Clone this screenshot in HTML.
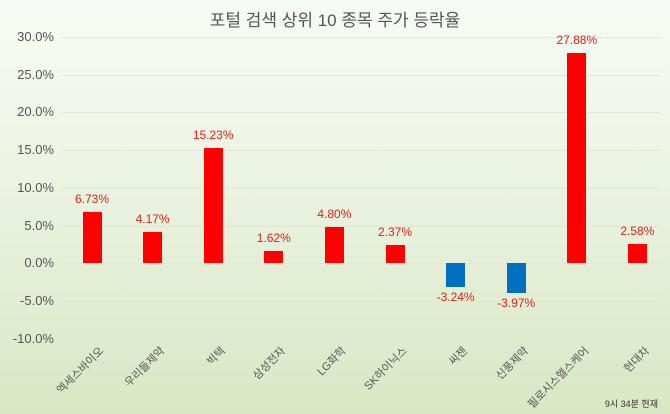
<!DOCTYPE html>
<html><head><meta charset="utf-8"><style>
body{margin:0}
.c{position:relative;width:670px;height:414px;overflow:hidden;background:linear-gradient(#f8fbf5,#eef5e6 35%,#d9e7c4);font-family:"Liberation Sans","Noto Sans CJK KR",sans-serif}
.t{position:absolute;top:6px;left:0;width:670px;text-align:center;font-size:17px;color:#555}
.y{position:absolute;left:0;width:54px;text-align:right;font-size:13px;color:#555}
.g{position:absolute;left:62px;width:598px;height:1px;background:#dfe8d6}
.b{position:absolute;width:19px}
.v{position:absolute;width:60px;text-align:center;font-size:12px;color:#e0201a}
.x{position:absolute;font-size:11px;color:#555;white-space:nowrap;transform-origin:100% 0;transform:rotate(-45deg)}
</style></head><body><div class="c">
<div class="t">포털 검색 상위 10 종목 주가 등락율</div>
<div id="r"></div>
<div style="position:absolute;right:12px;bottom:4px;font-size:9px;color:#333">9시 34분 현재</div>
</div>
<script>
var c=document.querySelector('.c'),h='';
for(var i=0;i<9;i++){var p=30-5*i,y=37+i*37.7;h+='<div class="g" style="top:'+y+'px"></div><div class="y" style="top:'+(y-8)+'px">'+p.toFixed(1)+'%</div>';}
var d=[['엑세스바이오',6.73],['우리들제약',4.17],['빅텍',15.23],['삼성전자',1.62],['LG화학',4.80],['SK하이닉스',2.37],['씨젠',-3.24],['신풍제약',-3.97],['필로시스헬스케어',27.88],['현대차',2.58]];
d.forEach(function(e,i){var x=92+i*60.6,v=e[1],z=263,hh=Math.abs(v)*7.54,top=v>0?z-hh:z;
h+='<div class="b" style="left:'+(x-9.5)+'px;top:'+top+'px;height:'+hh+'px;background:'+(v>0?'#ff0000':'#0070c0')+'"></div>';
var ly=v>0?top-20:z+hh+3;
h+='<div class="v" style="left:'+(x-30)+'px;top:'+ly+'px">'+v.toFixed(2)+'%</div>';
h+='<div class="x" style="right:'+(670-x-4)+'px;top:343px">'+e[0]+'</div>';});
c.insertAdjacentHTML('beforeend',h);
</script></body></html>
